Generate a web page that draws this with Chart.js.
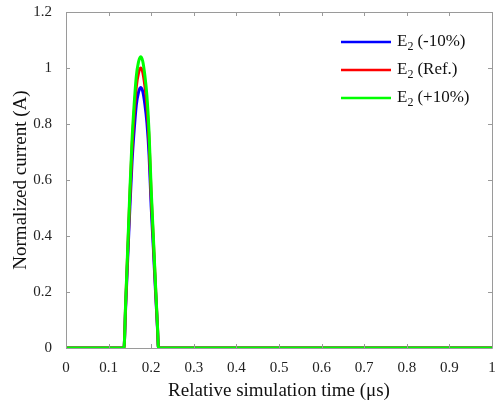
<!DOCTYPE html>
<html>
<head>
<meta charset="utf-8">
<script src="https://cdn.jsdelivr.net/npm/chart.js@4.4.1/dist/chart.umd.min.js"></script>
<style>
  html, body { margin: 0; padding: 0; background: #fff; }
  #wrap { width: 500px; height: 406px; }
</style>
</head>
<body>
<div id="wrap"><canvas id="myChart" width="500" height="406"></canvas></div>
<script>
// time axis (relative simulation time, us)
const timeValues = [0, 0.136, 0.14, 0.145, 0.15, 0.155, 0.16, 0.165, 0.17, 0.175,
                    0.18, 0.185, 0.19, 0.195, 0.2, 0.205, 0.21, 0.215, 0.217, 1];

// normalized current for each case
const currentMinus10 = [0, 0, 0.144, 0.324, 0.504, 0.664, 0.778, 0.868, 0.912, 0.93,
                        0.917, 0.872, 0.804, 0.688, 0.504, 0.358, 0.206, 0.062, 0, 0];
const currentRef = [0, 0, 0.155, 0.348, 0.542, 0.714, 0.837, 0.933, 0.981, 1.0,
                    0.986, 0.938, 0.865, 0.74, 0.542, 0.385, 0.221, 0.067, 0, 0];
const currentPlus10 = [0, 0, 0.161, 0.362, 0.564, 0.743, 0.87, 0.97, 1.02, 1.04,
                       1.025, 0.975, 0.9, 0.77, 0.564, 0.4, 0.23, 0.07, 0, 0];

const seriesLabels = ['(-10%)', '(Ref.)', '(+10%)'];
const seriesColors = ['#0000ff', '#ff0000', '#00ff00'];

const xTicks = [0, 0.1, 0.2, 0.3, 0.4, 0.5, 0.6, 0.7, 0.8, 0.9, 1];
const yTicks = [0, 0.2, 0.4, 0.6, 0.8, 1, 1.2];

const serif = "'Liberation Serif', 'DejaVu Serif', serif";

function toPoints(vals) {
    return timeValues.map((t, i) => ({ x: t, y: vals[i] }));
}

function fmt(v) {
    return String(Number(v.toFixed(1)));
}

// box around the plot with small inward ticks on all four sides
const boxPlugin = {
    id: 'boxTicks',
    afterDatasetsDraw(chart) {
        const c = chart.ctx;
        const a = chart.chartArea;
        const xs = chart.scales.x, ys = chart.scales.y;
        c.save();
        c.strokeStyle = '#9a9a9a';
        c.lineWidth = 1;
        c.beginPath();
        c.rect(Math.round(a.left) + 0.5, Math.round(a.top) + 0.5,
               Math.round(a.right - a.left), Math.round(a.bottom - a.top));
        xTicks.forEach(v => {
            const px = Math.round(xs.getPixelForValue(v)) + 0.5;
            c.moveTo(px, a.bottom); c.lineTo(px, a.bottom - 4);
            c.moveTo(px, a.top); c.lineTo(px, a.top + 4);
        });
        yTicks.forEach(v => {
            const py = Math.round(ys.getPixelForValue(v)) + 0.5;
            c.moveTo(a.left, py); c.lineTo(a.left + 4, py);
            c.moveTo(a.right, py); c.lineTo(a.right - 4, py);
        });
        c.stroke();
        c.restore();
    }
};

// legend with subscript E2 drawn inside the plot
const legendPlugin = {
    id: 'subLegend',
    afterDraw(chart) {
        const c = chart.ctx;
        const a = chart.chartArea;
        const x0 = a.right - 151;
        c.save();
        seriesLabels.forEach((lab, i) => {
            const y = a.top + 30 + i * 28;
            c.strokeStyle = seriesColors[i];
            c.lineWidth = 2.5;
            c.beginPath();
            c.moveTo(x0, y); c.lineTo(x0 + 50, y);
            c.stroke();
            c.fillStyle = '#111';
            c.textBaseline = 'middle';
            c.font = '17px ' + serif;
            let tx = x0 + 56;
            c.fillText('E', tx, y);
            tx += c.measureText('E').width;
            c.font = '12px ' + serif;
            c.fillText('2', tx, y + 5);
            tx += c.measureText('2').width + 4;
            c.font = '17px ' + serif;
            c.fillText(lab, tx, y);
        });
        c.restore();
    }
};

const ctx = document.getElementById('myChart').getContext('2d');
new Chart(ctx, {
    type: 'line',
    data: {
        datasets: [
            { label: 'E2 (-10%)', data: toPoints(currentMinus10), borderColor: seriesColors[0], order: 3 },
            { label: 'E2 (Ref.)', data: toPoints(currentRef), borderColor: seriesColors[1], order: 2 },
            { label: 'E2 (+10%)', data: toPoints(currentPlus10), borderColor: seriesColors[2], order: 1 }
        ].map(d => Object.assign(d, { borderWidth: 3, pointRadius: 0, cubicInterpolationMode: 'monotone', fill: false }))
    },
    options: {
        responsive: false,
        animation: false,
        layout: { padding: { top: 12, right: 8, left: 6, bottom: 0 } },
        plugins: { legend: { display: false }, tooltip: { enabled: false } },
        scales: {
            x: {
                type: 'linear', min: 0, max: 1,
                afterBuildTicks(s) { s.ticks = xTicks.map(v => ({ value: v })); },
                afterFit(s) { s.height = 58; s.paddingLeft = 0; s.paddingRight = 0; },
                grid: { display: false },
                border: { display: false },
                ticks: { color: '#222', font: { family: serif, size: 15 }, padding: 3, maxRotation: 0,
                         callback: v => fmt(v) },
                title: { display: true, text: 'Relative simulation time (μs)', color: '#111',
                         font: { family: serif, size: 19 }, padding: { top: 6 } }
            },
            y: {
                type: 'linear', min: 0, max: 1.2,
                afterBuildTicks(s) { s.ticks = yTicks.map(v => ({ value: v })); },
                afterFit(s) { s.width = 60; s.paddingTop = 0; s.paddingBottom = 0; },
                grid: { display: false },
                border: { display: false },
                ticks: { color: '#222', font: { family: serif, size: 15 }, padding: 6,
                         callback: v => fmt(v) },
                title: { display: true, text: 'Normalized current (A)', color: '#111',
                         font: { family: serif, size: 19 }, padding: { bottom: 4 } }
            }
        }
    },
    plugins: [boxPlugin, legendPlugin]
});
</script>
</body>
</html>
